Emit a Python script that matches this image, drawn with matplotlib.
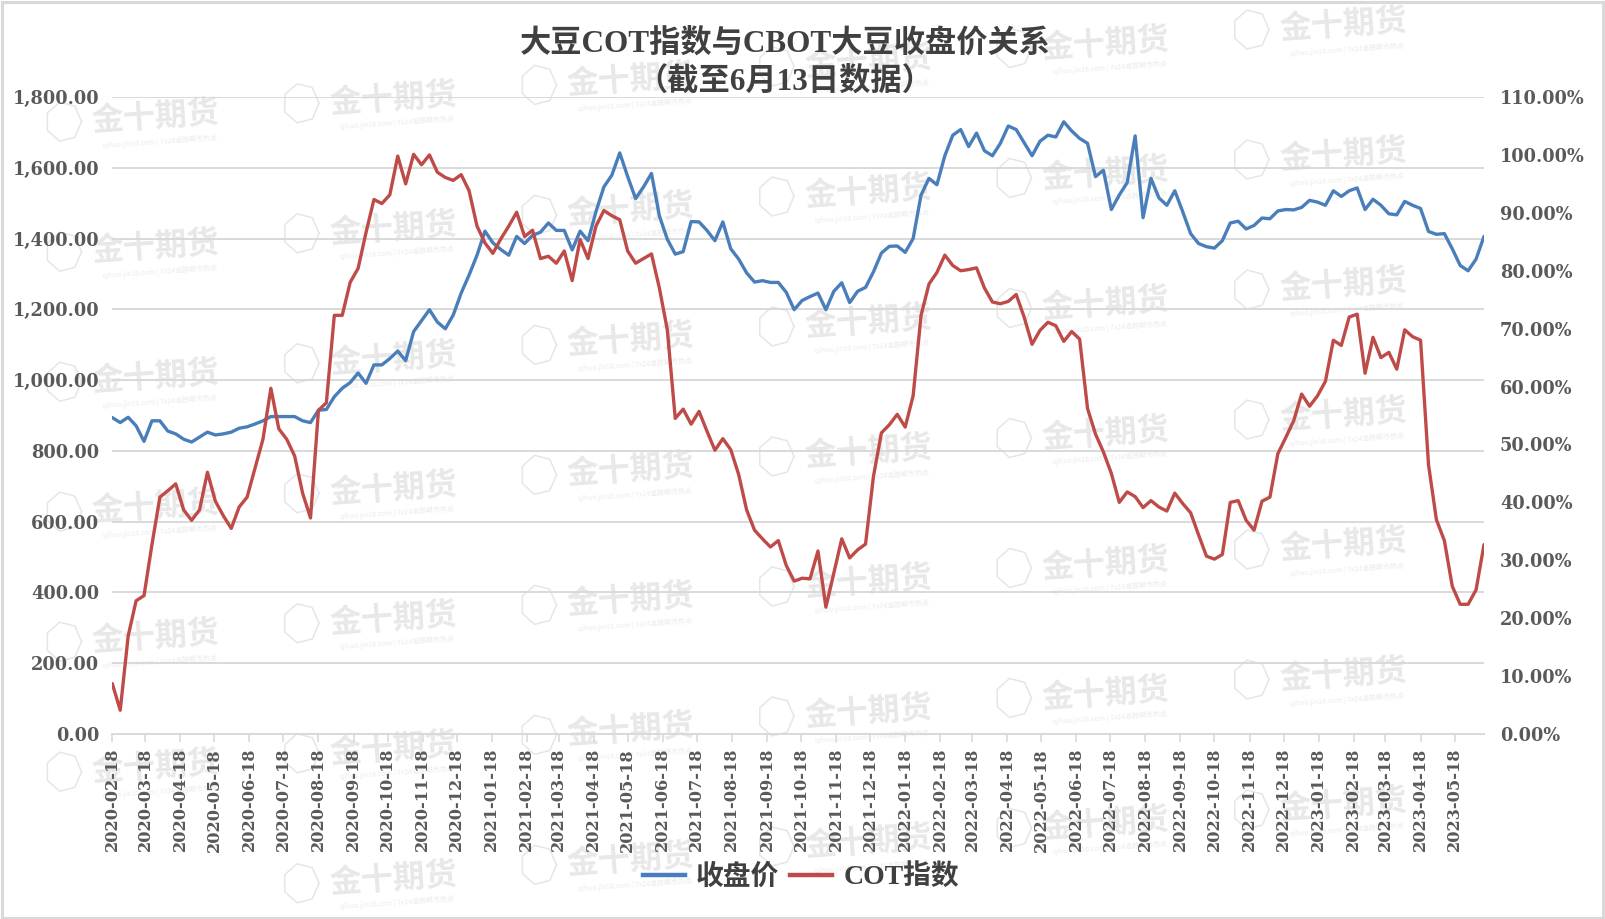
import numpy as np
import pandas as pd
import matplotlib
matplotlib.use('Agg')
import matplotlib.pyplot as plt
from matplotlib.ticker import FuncFormatter, MultipleLocator
from matplotlib.patches import Rectangle
from matplotlib.lines import Line2D

# ---------------- data ----------------
start_date = '2020-02-18'
end_date = '2023-06-13'

close_price = [
    894, 880, 895, 871, 827, 885, 885, 856, 848, 833,
    825, 839, 853, 845, 848, 853, 864, 868, 876, 885,
    897, 897, 897, 897, 885, 880, 915, 917, 953, 977,
    993, 1020, 991, 1043, 1043, 1061, 1082, 1055, 1137, 1168,
    1199, 1164, 1145, 1184, 1246, 1297, 1353, 1421, 1388, 1369,
    1353, 1406, 1386, 1409, 1418, 1444, 1423, 1423, 1368, 1421,
    1394, 1476, 1546, 1579, 1642, 1575, 1513, 1546, 1584, 1464,
    1398, 1356, 1363, 1448, 1447, 1423, 1394, 1447, 1371, 1342,
    1303, 1277, 1281, 1276, 1276, 1248, 1199, 1225, 1236, 1246,
    1199, 1251, 1275, 1219, 1251, 1262, 1306, 1359, 1378, 1379,
    1361, 1400, 1523, 1570, 1552, 1634, 1692, 1708, 1660, 1698,
    1648, 1634, 1669, 1718, 1708, 1671, 1634, 1675, 1692, 1687,
    1730, 1704, 1683, 1669, 1575, 1593, 1482, 1523, 1558, 1690,
    1459, 1570, 1515, 1494, 1535, 1476, 1414, 1386, 1377, 1373,
    1394, 1444, 1449, 1427, 1437, 1458, 1456, 1478, 1482, 1481,
    1488, 1508, 1503, 1494, 1535, 1519, 1535, 1543, 1482, 1511,
    1494, 1470, 1467, 1505, 1494, 1485, 1420, 1412, 1414, 1371,
    1324, 1309, 1342, 1406,
]

cot_index = [
    8.7, 4.1, 16.9, 23.0, 23.9, 32.7, 40.9, 42.0, 43.2, 38.7,
    36.9, 38.7, 45.2, 40.2, 37.7, 35.5, 39.2, 40.9, 45.9, 50.9,
    59.7, 52.7, 50.9, 48.0, 41.6, 37.3, 55.9, 57.2, 72.3, 72.3,
    78.0, 80.4, 86.6, 92.3, 91.6, 93.1, 99.8, 95.0, 100.1, 98.3,
    100.0, 97.0, 96.1, 95.6, 96.6, 93.8, 87.7, 84.8, 83.0, 85.5,
    87.7, 90.1, 85.9, 87.0, 82.1, 82.5, 81.3, 83.4, 78.3, 85.4,
    82.1, 87.7, 90.4, 89.5, 88.8, 83.4, 81.3, 82.1, 82.9, 77.0,
    69.8, 54.5, 56.1, 53.5, 55.7, 52.3, 49.0, 51.0, 49.1, 44.8,
    38.7, 35.2, 33.7, 32.3, 33.4, 29.1, 26.4, 26.9, 26.8, 31.6,
    21.9, 27.8, 33.7, 30.4, 31.8, 32.8, 44.5, 52.0, 53.4, 55.2,
    53.0, 58.4, 72.3, 77.7, 79.7, 82.7, 80.9, 80.0, 80.2, 80.5,
    77.0, 74.6, 74.3, 74.7, 75.9, 72.0, 67.3, 69.7, 71.1, 70.5,
    67.8, 69.5, 68.2, 56.2, 51.8, 48.7, 45.0, 40.0, 41.8, 41.0,
    39.1, 40.3, 39.2, 38.5, 41.6, 39.8, 38.2, 34.4, 30.7, 30.2,
    31.0, 40.0, 40.3, 36.9, 35.2, 40.2, 40.9, 48.4, 51.2, 54.1,
    58.7, 56.6, 58.4, 60.9, 68.0, 67.1, 72.0, 72.5, 62.3, 68.5,
    65.0, 65.9, 63.0, 69.8, 68.6, 68.0, 46.5, 37.0, 33.4, 25.5,
    22.4, 22.4, 24.9, 32.7,
]

dates = pd.date_range(start_date, end_date, freq='7D')
tick_dates = pd.date_range('2020-02-01', '2023-05-01', freq='MS') + pd.Timedelta(days=17)
tick_labels = [d.strftime('%Y-%m-%d') for d in tick_dates]

series_names = ['收盘价', 'COT指数']
title_line1 = '大豆COT指数与CBOT大豆收盘价关系'
title_line2 = '（截至6月13日数据）'
watermark = '金十期货'
watermark_sub = 'qihuo.jin10.com | 7x24追踪期市热点'

# ---------------- style ----------------
BLUE = '#4a7ebb'
RED = '#be4b48'
GRID = '#d9d9d9'
TXT = '#595959'
CJK = ['Liberation Serif', 'Noto Sans CJK SC', 'DejaVu Sans']
NUMF = 'DejaVu Serif'

W, H = 1605, 919
fig = plt.figure(figsize=(W / 100, H / 100), dpi=100)
fig.patch.set_facecolor('white')

# watermark lattice (drawn behind everything)
sx = W / 1568.0
for c in range(6):
    for r in range(7):
        xc = (152 + 232 * c) * sx
        yc = (115 + 127 * r - 18 * c) * sx
        if yc + 22 > H:
            continue
        fig.text(xc / W, 1 - yc / H, watermark, ha='center', va='center',
                 fontsize=23, fontweight='bold', color='#e8e8e8',
                 family=['Noto Sans CJK SC'], rotation=4, zorder=-5)
        if yc + 30 < H:
            fig.text((xc + 4) / W, 1 - (yc + 24) / H, watermark_sub, ha='center',
                     va='center', fontsize=5, color='#ebebeb',
                     family=['Noto Sans CJK SC', 'DejaVu Sans'], rotation=4, zorder=-5)
        ang = np.linspace(0, 2 * np.pi, 8)
        hx = [(xc - 92 + 18 * np.cos(a)) / W for a in ang]
        hy = [1 - (yc + 4 + 20 * np.sin(a)) / H for a in ang]
        fig.add_artist(Line2D(hx, hy, transform=fig.transFigure, color='#e6e6e6',
                              lw=1.1, zorder=-5))

# axes geometry in pixels
x0, x1 = 112.3, 1484.0
ytop, ybot = 97.0, 734.0
ax = fig.add_axes([x0 / W, 1 - ybot / H, (x1 - x0) / W, (ybot - ytop) / H])
ax.patch.set_facecolor('none')
ax2 = ax.twinx()
ax2.patch.set_visible(False)

ax.plot(dates, close_price, color=BLUE, lw=2.4, solid_joinstyle='round',
        solid_capstyle='round', zorder=3)
ax2.plot(dates, cot_index, color=RED, lw=2.4, solid_joinstyle='round',
         solid_capstyle='round', zorder=3)

ax.set_xlim(pd.Timestamp(start_date), pd.Timestamp(end_date))
ax.set_ylim(0, 1800)
ax2.set_ylim(0, 110)
ax.yaxis.set_major_locator(MultipleLocator(200))
ax2.yaxis.set_major_locator(MultipleLocator(10))
ax.yaxis.set_major_formatter(FuncFormatter(lambda v, p: f'{v:,.2f}'))
ax2.yaxis.set_major_formatter(FuncFormatter(lambda v, p: f'{v:.2f}%'))

ax.yaxis.grid(True, color=GRID, lw=1.4)
ax.set_axisbelow(True)
for a in (ax, ax2):
    for s in ('top', 'left', 'right'):
        a.spines[s].set_visible(False)
ax2.spines['bottom'].set_visible(False)
ax.spines['bottom'].set_color(GRID)
ax.spines['bottom'].set_linewidth(1.4)

ax.set_xticks(tick_dates)
ax.set_xticklabels(tick_labels, rotation=90, fontsize=11.6, family=NUMF,
                   color=TXT, fontweight='bold')
ax.tick_params(axis='x', direction='out', length=6, width=1.2, color=GRID, pad=4)
ax.tick_params(axis='y', length=0, pad=9.5, labelsize=12.8, labelcolor=TXT)
ax2.tick_params(axis='y', length=0, pad=11.5, labelsize=12.8, labelcolor=TXT)
for lab in ax.get_yticklabels() + ax2.get_yticklabels():
    lab.set_family(NUMF)
    lab.set_fontweight('bold')

# titles
fig.text(785 / W, 1 - 43 / H, title_line1, ha='center', va='center', fontsize=22.5,
         fontweight='bold', color='#404040', family=CJK)
fig.text(785 / W, 1 - 81 / H, title_line2, ha='center', va='center', fontsize=22.5,
         fontweight='bold', color='#404040', family=CJK)

# legend
leg = fig.legend([Line2D([], [], color=BLUE, lw=3.2), Line2D([], [], color=RED, lw=3.2)],
                 series_names, loc='center', bbox_to_anchor=(801 / W, 1 - 877 / H),
                 ncol=2, frameon=False, handlelength=1.5, handletextpad=0.4,
                 columnspacing=0.4, prop={'family': CJK, 'size': 20, 'weight': 'bold'})
for t in leg.get_texts():
    t.set_color('#404040')

# outer frame
fig.add_artist(Rectangle((1.5 / W, 1.5 / H), (W - 3.5) / W, (H - 3.5) / H,
                         transform=fig.transFigure, fill=False, edgecolor=GRID, lw=2.2))

fig.savefig('out.png', dpi=100, facecolor='white')
